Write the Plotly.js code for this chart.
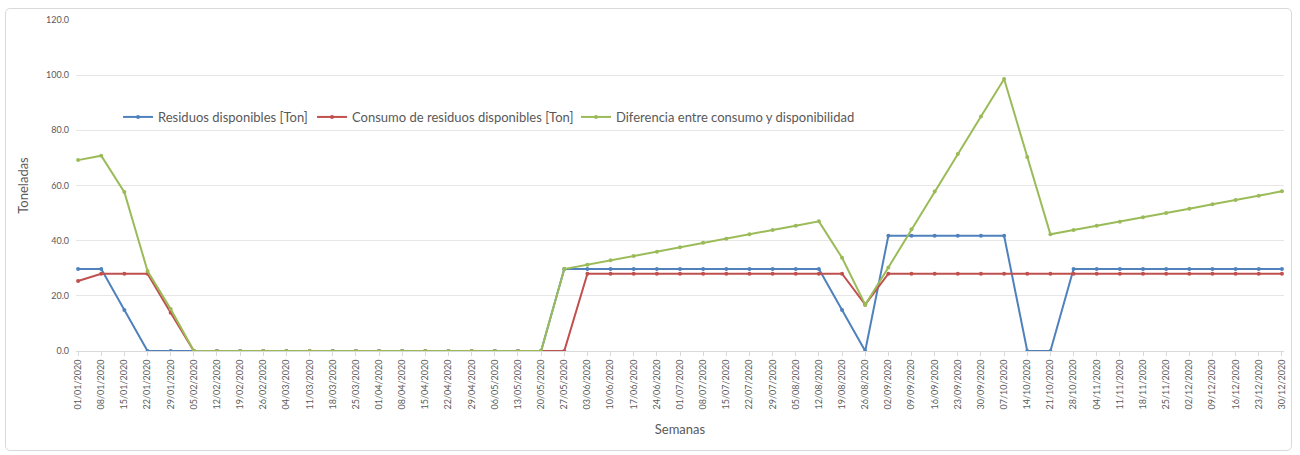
<!DOCTYPE html>
<html>
<head>
<meta charset="utf-8">
<script src="https://cdn.plot.ly/plotly-3.0.1.min.js"></script>
<style>
  html, body { margin: 0; padding: 0; background: #ffffff; }
  #frame { position: absolute; left: 5px; top: 8px; width: 1287px; height: 443px;
           border: 1px solid #d9d9d9; border-radius: 5px; box-sizing: border-box; }
  #chart { position: absolute; left: 0; top: 0; width: 1300px; height: 455px; }
</style>
</head>
<body>
<div id="frame"></div>
<div id="chart"></div>
<script>
const semanas = ["01/01/2020","08/01/2020","15/01/2020","22/01/2020","29/01/2020","05/02/2020","12/02/2020","19/02/2020","26/02/2020","04/03/2020","11/03/2020","18/03/2020","25/03/2020","01/04/2020","08/04/2020","15/04/2020","22/04/2020","29/04/2020","06/05/2020","13/05/2020","20/05/2020","27/05/2020","03/06/2020","10/06/2020","17/06/2020","24/06/2020","01/07/2020","08/07/2020","15/07/2020","22/07/2020","29/07/2020","05/08/2020","12/08/2020","19/08/2020","26/08/2020","02/09/2020","09/09/2020","16/09/2020","23/09/2020","30/09/2020","07/10/2020","14/10/2020","21/10/2020","28/10/2020","04/11/2020","11/11/2020","18/11/2020","25/11/2020","02/12/2020","09/12/2020","16/12/2020","23/12/2020","30/12/2020"];

const residuos = [29.7,29.7,14.9,0,0,0,0,0,0,0,0,0,0,0,0,0,0,0,0,0,0,29.7,29.7,29.7,29.7,29.7,29.7,29.7,29.7,29.7,29.7,29.7,29.7,14.9,0,41.8,41.8,41.8,41.8,41.8,41.8,0,0,29.7,29.7,29.7,29.7,29.7,29.7,29.7,29.7,29.7,29.7];

const consumo = [25.4,28.0,28.0,28.0,13.9,0,0,0,0,0,0,0,0,0,0,0,0,0,0,0,0,0,28.0,28.0,28.0,28.0,28.0,28.0,28.0,28.0,28.0,28.0,28.0,28.0,16.8,28.0,28.0,28.0,28.0,28.0,28.0,28.0,28.0,28.0,28.0,28.0,28.0,28.0,28.0,28.0,28.0,28.0,28.0];

const diferencia = [69.2,70.8,57.6,29.0,15.2,0,0,0,0,0,0,0,0,0,0,0,0,0,0,0,0,29.7,31.3,32.9,34.4,36.0,37.6,39.2,40.7,42.3,43.9,45.4,47.0,33.8,16.8,30.3,44.1,57.8,71.4,85.0,98.6,70.3,42.3,43.9,45.4,46.9,48.5,50.0,51.6,53.2,54.7,56.3,57.9];

const nombres = ["Residuos disponibles [Ton]","Consumo de residuos disponibles [Ton]","Diferencia entre consumo y disponibilidad"];
const colores = ["#4F81BD","#C0504D","#9BBB59"];
const series = [residuos, consumo, diferencia];
const leyendas = ["legend","legend2","legend3"];
const leyendaX = [0.0348, 0.1954, 0.4139];

const FONT = "Lato, 'Liberation Sans', sans-serif";
const GRAY = "#595959";

const traces = series.map((s, i) => ({
  type: "scatter",
  mode: "lines+markers",
  x: semanas,
  y: s,
  name: nombres[i],
  legend: leyendas[i],
  line: { color: colores[i], width: 2 },
  marker: { color: colores[i], symbol: "circle", size: 4 }
}));

const layout = {
  width: 1300, height: 455,
  paper_bgcolor: "rgba(0,0,0,0)",
  plot_bgcolor: "rgba(0,0,0,0)",
  margin: { l: 76, r: 16, t: 20, b: 104 },
  font: { family: FONT, color: GRAY },
  showlegend: true,
  xaxis: {
    type: "category",
    range: [-0.09, 52.09],
    tickangle: -90,
    tickfont: { family: FONT, size: 9, color: GRAY },
    showgrid: false,
    showline: true,
    linecolor: "#d9d9d9",
    ticks: "outside",
    ticklen: 4,
    tickcolor: "#d9d9d9",
    title: { text: "Semanas", font: { family: FONT, size: 13, color: GRAY }, standoff: 16 }
  },
  yaxis: {
    range: [0, 120],
    dtick: 20,
    tickformat: ".1f",
    tickfont: { family: FONT, size: 9, color: GRAY },
    showgrid: true,
    gridcolor: "#e6e6e6",
    zeroline: false,
    ticks: "",
    ticklabelstandoff: 6,
    title: { text: "Toneladas", font: { family: FONT, size: 13, color: GRAY }, standoff: 14 }
  }
};

leyendas.forEach((lg, i) => {
  layout[lg] = {
    orientation: "h",
    x: leyendaX[i], xanchor: "left",
    y: 0.707, yanchor: "middle",
    font: { family: FONT, size: 13, color: GRAY },
    bgcolor: "rgba(0,0,0,0)",
    itemwidth: 30
  };
});

Plotly.newPlot("chart", traces, layout, { displayModeBar: false, staticPlot: true });
</script>
</body>
</html>
